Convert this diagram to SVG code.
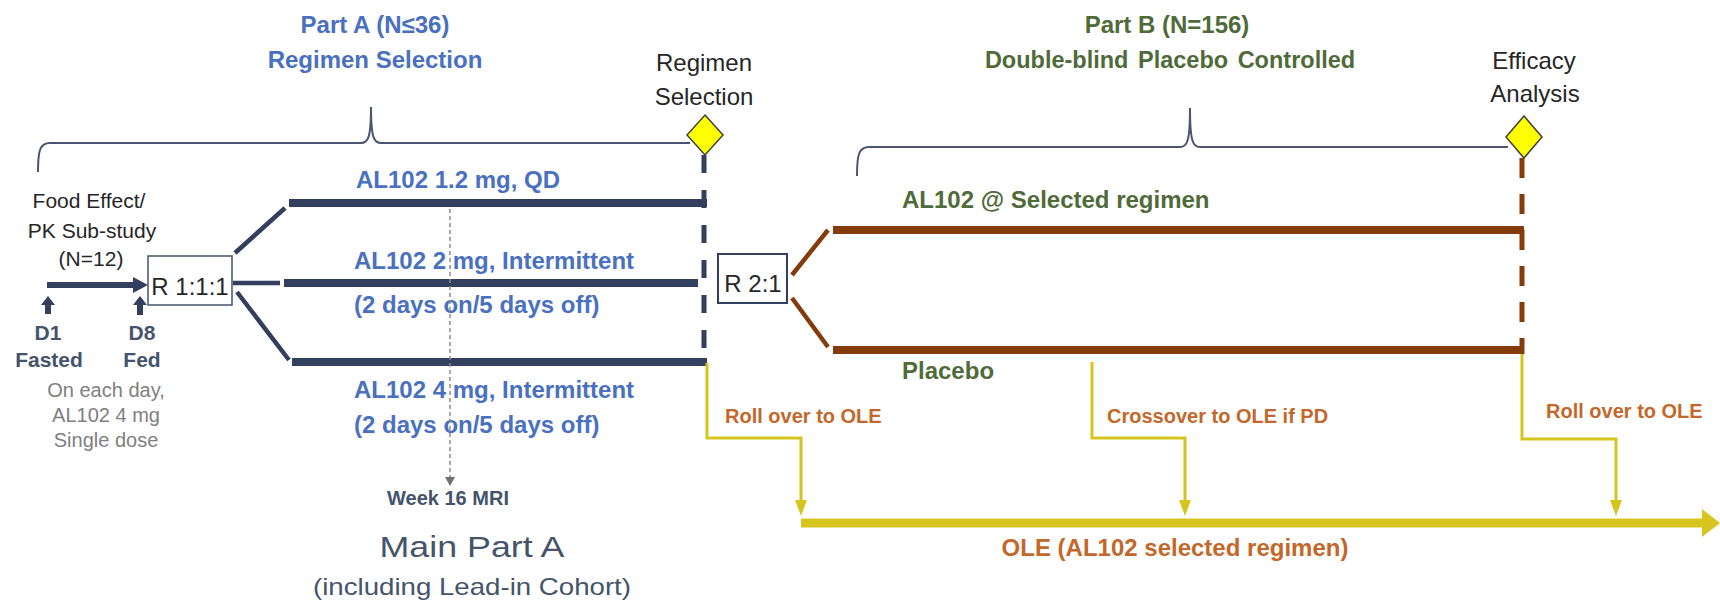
<svg xmlns="http://www.w3.org/2000/svg" width="1720" height="605" viewBox="0 0 1720 605">
<style>
text{font-family:"Liberation Sans",Arial,sans-serif}
.b{font-weight:bold}
.blue{fill:#4A70C0}
.green{fill:#4F6B3A}
.orange{fill:#C4672A}
.dark{fill:#262626}
.slate{fill:#44546A}
.grey{fill:#808080}
.navy{stroke:#323F5F;fill:none}
.brown{stroke:#843C0C;fill:none}
.yel{stroke:#D6C51E;fill:none;stroke-width:3}
.brace{stroke:#4A5670;fill:none;stroke-width:2}
.box{fill:#fff;stroke:#44546A;stroke-width:1.5}
.dia{fill:#FFFF00;stroke:#404040;stroke-width:1.5}
</style>
<rect width="1720" height="605" fill="#fff"/>

<g id="part-a-title" class="b blue" font-size="24" text-anchor="middle">
<text x="375" y="33">Part A (N≤36)</text>
<text x="375" y="68">Regimen Selection</text>
</g>
<g id="part-b-title" class="b green" font-size="24" text-anchor="middle">
<text x="1167" y="33">Part B (N=156)</text>
<text x="1170" y="68" font-size="23.5" word-spacing="3">Double-blind Placebo Controlled</text>
</g>

<g id="bracket-a"><path class="brace" d="M38,172 C38,150 40,143 50,143 L361,143 C368,143 371,138 371,107 C371,138 374,143 381,143 L690,143"/></g>
<g id="bracket-b"><path class="brace" d="M857,176 C857,154 859,147 869,147 L1180,147 C1187,147 1190,142 1190,108 C1190,142 1193,147 1200,147 L1508,147"/></g>

<g id="regimen-selection">
<text class="dark" font-size="24" text-anchor="middle" x="704" y="71">Regimen</text>
<text class="dark" font-size="24" text-anchor="middle" x="704" y="105">Selection</text>
<polygon class="dia" points="705,115 723,135 705,155 687,135"/>
</g>
<g id="efficacy-analysis">
<text class="dark" font-size="24" text-anchor="middle" x="1534" y="69">Efficacy</text>
<text class="dark" font-size="24" text-anchor="middle" x="1535" y="102">Analysis</text>
<polygon class="dia" points="1524,116 1542,137 1524,158 1506,137"/>
</g>

<g id="food-effect">
<text class="dark" font-size="21" text-anchor="middle" x="89" y="208">Food Effect/</text>
<text class="dark" font-size="21" text-anchor="middle" x="92" y="238">PK Sub-study</text>
<text class="dark" font-size="21" text-anchor="middle" x="91" y="266">(N=12)</text>
<g class="b slate" font-size="21" text-anchor="middle">
<text x="48" y="340">D1</text>
<text x="49" y="367">Fasted</text>
<text x="142" y="340">D8</text>
<text x="142" y="367">Fed</text>
</g>
<g class="grey" font-size="20" text-anchor="middle">
<text x="106" y="397">On each day,</text>
<text x="106" y="422">AL102 4 mg</text>
<text x="106" y="447">Single dose</text>
</g>
<polygon fill="#323F5F" points="48,296 55,305 51,305 51,314 45,314 45,305 41,305"/>
<polygon fill="#323F5F" points="140,296 147,305 143,305 143,315 137,315 137,305 133,305"/>
</g>

<g id="rand-a">
<rect class="box" x="148" y="256" width="84" height="49"/>
<text class="dark" font-size="24" text-anchor="middle" x="190" y="295">R 1:1:1</text>
</g>

<g id="arm-labels-a" class="b blue" font-size="24">
<text x="356" y="188">AL102 1.2 mg, QD</text>
<text x="354" y="269">AL102 2 mg, Intermittent</text>
<text x="354" y="313">(2 days on/5 days off)</text>
<text x="354" y="398">AL102 4 mg, Intermittent</text>
<text x="354" y="433">(2 days on/5 days off)</text>
</g>

<g id="week16">
<text class="b slate" font-size="20" text-anchor="middle" x="448" y="505">Week 16 MRI</text>
</g>
<g id="main-part-a" class="slate" text-anchor="middle">
<text x="472" y="557" font-size="29" textLength="185" lengthAdjust="spacingAndGlyphs">Main Part A</text>
<text x="472" y="595" font-size="24" textLength="318" lengthAdjust="spacingAndGlyphs">(including Lead-in Cohort)</text>
</g>

<g id="rand-b">
<rect class="box" x="718" y="254" width="69" height="49" style="stroke:#323F5F;stroke-width:2"/>
<text class="dark" font-size="24" text-anchor="middle" x="753" y="292">R 2:1</text>
</g>

<g id="arm-labels-b" class="b green" font-size="24">
<text x="902" y="208">AL102 @ Selected regimen</text>
<text x="902" y="379">Placebo</text>
</g>

<g id="ole">
<text class="b orange" font-size="24" text-anchor="middle" x="1175" y="556">OLE (AL102 selected regimen)</text>
</g>

<g id="transition-labels" class="b orange" font-size="20">
<text x="725" y="423">Roll over to OLE</text>
<text x="1107" y="423">Crossover to OLE if PD</text>
<text x="1546" y="418">Roll over to OLE</text>
</g>

<g id="connectors">
<path class="navy" stroke-width="6" d="M47,285 H136"/>
<polygon fill="#323F5F" points="133,277 148,285 133,293"/>
<path class="navy" stroke-width="4.5" d="M235,253 L285,208 M233,283 H280 M237,292 L289,360"/>
<path class="navy" stroke-width="8" d="M289,203 H707 M284,283 H698 M292,362 H707"/>
<path class="navy" stroke-width="5" d="M704,155 V366" stroke-dasharray="18 17"/>
<path d="M450,209 V478" stroke="#8C8C8C" stroke-width="1.5" stroke-dasharray="4 3" fill="none"/>
<polygon fill="#707070" points="445,477 455,477 450,486"/>

<path class="brown" stroke-width="4.5" d="M792,275 L828,230 M792,298 L828,347"/>
<path class="brown" stroke-width="8" d="M833,230 H1524 M833,350 H1524"/>
<path class="brown" stroke-width="5" d="M1522,158 V354" stroke-dasharray="20 16 20 16 20 16 20 16 20 16 20 16"/>

<path class="yel" d="M707,363 V438 H801 V503"/>
<path class="yel" d="M1092,362 V438 H1185 V503"/>
<path class="yel" d="M1522,354 V439 H1616 V503"/>
<polygon fill="#D6C51E" points="795,500 807,500 801,516"/>
<polygon fill="#D6C51E" points="1179,500 1191,500 1185,516"/>
<polygon fill="#D6C51E" points="1610,500 1622,500 1616,516"/>
<path d="M801,523 H1704" stroke="#D6C51E" stroke-width="9" fill="none"/>
<polygon fill="#D6C51E" points="1702,509 1720,523 1702,537"/>
</g>
</svg>
